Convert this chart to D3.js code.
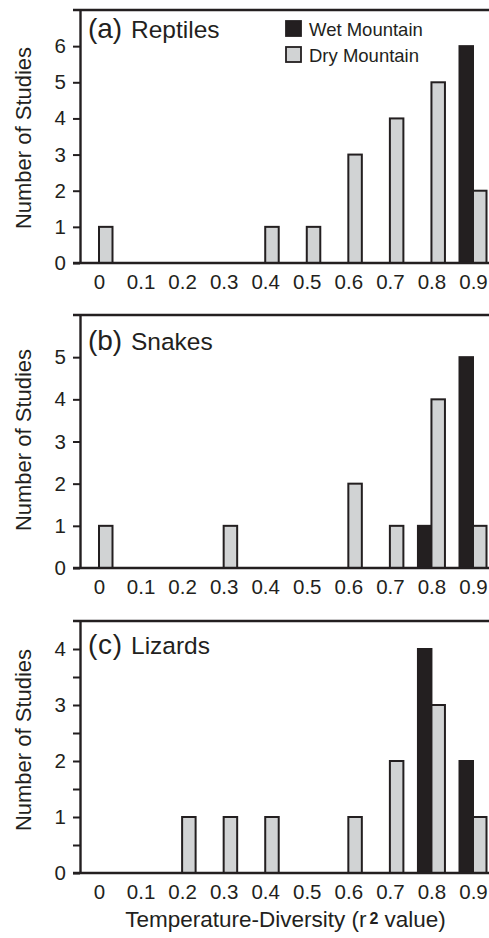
<!DOCTYPE html>
<html>
<head>
<meta charset="utf-8">
<script src="https://cdn.jsdelivr.net/npm/d3@7"></script>
<style>
  body { margin: 0; background: #fff; }
  text { font-family: "Liberation Sans", Arial, sans-serif; fill: #231f20; }
</style>
</head>
<body>
<svg id="svg" width="489" height="938"></svg>
<script>
"use strict";

const categories = ["0", "0.1", "0.2", "0.3", "0.4", "0.5", "0.6", "0.7", "0.8", "0.9"];

const reptilesWet = [0, 0, 0, 0, 0, 0, 0, 0, 0, 6];
const reptilesDry = [1, 0, 0, 0, 1, 1, 3, 4, 5, 2];
const snakesWet   = [0, 0, 0, 0, 0, 0, 0, 0, 1, 5];
const snakesDry   = [1, 0, 0, 1, 0, 0, 2, 1, 4, 1];
const lizardsWet  = [0, 0, 0, 0, 0, 0, 0, 0, 4, 2];
const lizardsDry  = [0, 0, 1, 1, 1, 0, 1, 2, 3, 1];

const panelLetters = ["(a)", "(b)", "(c)"];
const panelNames = ["Reptiles", "Snakes", "Lizards"];
const yMax = [7, 6, 4.5];
const yTickValues = [
    [0, 1, 2, 3, 4, 5, 6],
    [0, 1, 2, 3, 4, 5],
    [0, 0.5, 1, 1.5, 2, 2.5, 3, 3.5, 4]
];
const seriesNames = ["Wet Mountain", "Dry Mountain"];

const dark = "#231f20";
const gray = "#d1d3d4";
const barWidth = 13.5;
const axisX = 80;
const rightX = 489;

// top line and baseline of each panel, plus where its texts sit
const layout = [
    { top: 10,  base: 263, titleY: 38,  yTitleCy: 138 },
    { top: 315, base: 568, titleY: 350, yTitleCy: 440 },
    { top: 621, base: 873, titleY: 654, yTitleCy: 740 }
];

const wetSeries = [reptilesWet, snakesWet, lizardsWet];
const drySeries = [reptilesDry, snakesDry, lizardsDry];

var svg = d3.select("svg");

var x = d3.scalePoint()
    .domain(categories)
    .range([99, 473]);

layout.forEach(function(p, k)
{
    var y = d3.scaleLinear()
        .domain([0, yMax[k]])
        .range([p.base, p.top]);

    var g = svg.append("g");

    // bars
    var rows = categories.map((c, i) => ({ c: c, wet: wetSeries[k][i], dry: drySeries[k][i] }));

    g.selectAll(".wet")
        .data(rows.filter(d => d.wet > 0))
        .enter()
        .append("rect")
            .attr("class", "wet")
            .attr("x", d => x(d.c) - barWidth)
            .attr("y", d => y(d.wet))
            .attr("width", barWidth)
            .attr("height", d => p.base - y(d.wet))
            .attr("fill", dark)
            .attr("stroke", dark)
            .attr("stroke-width", 2);

    g.selectAll(".dry")
        .data(rows.filter(d => d.dry > 0))
        .enter()
        .append("rect")
            .attr("class", "dry")
            .attr("x", d => x(d.c))
            .attr("y", d => y(d.dry))
            .attr("width", barWidth)
            .attr("height", d => p.base - y(d.dry))
            .attr("fill", gray)
            .attr("stroke", dark)
            .attr("stroke-width", 2);

    // y axis
    var yAxis = g.append("g")
        .attr("transform", "translate(" + axisX + ",0)")
        .call(d3.axisLeft(y)
            .tickValues(yTickValues[k])
            .tickSize(7)
            .tickSizeOuter(0)
            .tickPadding(7)
            .tickFormat(d => Number.isInteger(d) ? d : ""));
    yAxis.select(".domain").attr("stroke", dark).attr("stroke-width", 2.4);
    yAxis.selectAll(".tick line").attr("stroke", dark).attr("stroke-width", 2);
    yAxis.selectAll(".tick text")
        .attr("font-size", 20.5)
        .attr("font-family", "Liberation Sans, Arial, sans-serif")
        .attr("fill", dark);

    // top frame line and baseline
    g.append("line")
        .attr("x1", axisX - 7).attr("x2", rightX)
        .attr("y1", p.top).attr("y2", p.top)
        .attr("stroke", dark).attr("stroke-width", 2.4);
    g.append("line")
        .attr("x1", axisX - 7).attr("x2", rightX)
        .attr("y1", p.base).attr("y2", p.base)
        .attr("stroke", dark).attr("stroke-width", 2.4);

    // x axis labels
    var xAxis = g.append("g")
        .attr("transform", "translate(0," + p.base + ")")
        .call(d3.axisBottom(x).tickSize(0).tickPadding(11));
    xAxis.select(".domain").remove();
    xAxis.selectAll(".tick text")
        .attr("font-size", 20.5)
        .attr("font-family", "Liberation Sans, Arial, sans-serif")
        .attr("fill", dark);

    // panel title
    g.append("text")
        .attr("x", 88)
        .attr("y", p.titleY)
        .attr("font-size", 28)
        .attr("textLength", 34)
        .text(panelLetters[k]);
    g.append("text")
        .attr("x", 131)
        .attr("y", p.titleY)
        .attr("font-size", 24.5)
        .text(panelNames[k]);

    // y axis title
    g.append("text")
        .attr("transform", "translate(31," + p.yTitleCy + ") rotate(-90)")
        .attr("text-anchor", "middle")
        .attr("font-size", 22)
        .text("Number of Studies");
});

// legend
var legend = svg.append("g");
seriesNames.forEach(function(name, i)
{
    legend.append("rect")
        .attr("x", 286)
        .attr("y", 21 + i * 26)
        .attr("width", 15)
        .attr("height", 15)
        .attr("fill", i === 0 ? dark : gray)
        .attr("stroke", dark)
        .attr("stroke-width", 1.8);
    legend.append("text")
        .attr("x", 309)
        .attr("y", 36 + i * 26)
        .attr("font-size", 18.5)
        .text(name);
});

// x axis title
var xTitle = svg.append("text")
    .attr("x", 285.5)
    .attr("y", 927)
    .attr("text-anchor", "middle")
    .attr("font-size", 22.5);
xTitle.append("tspan").text("Temperature-Diversity (r");
xTitle.append("tspan")
    .attr("dx", 3)
    .attr("dy", -3)
    .attr("font-size", 16)
    .attr("font-weight", "bold")
    .text("2");
xTitle.append("tspan")
    .attr("dy", 3)
    .text(" value)");
</script>
</body>
</html>
